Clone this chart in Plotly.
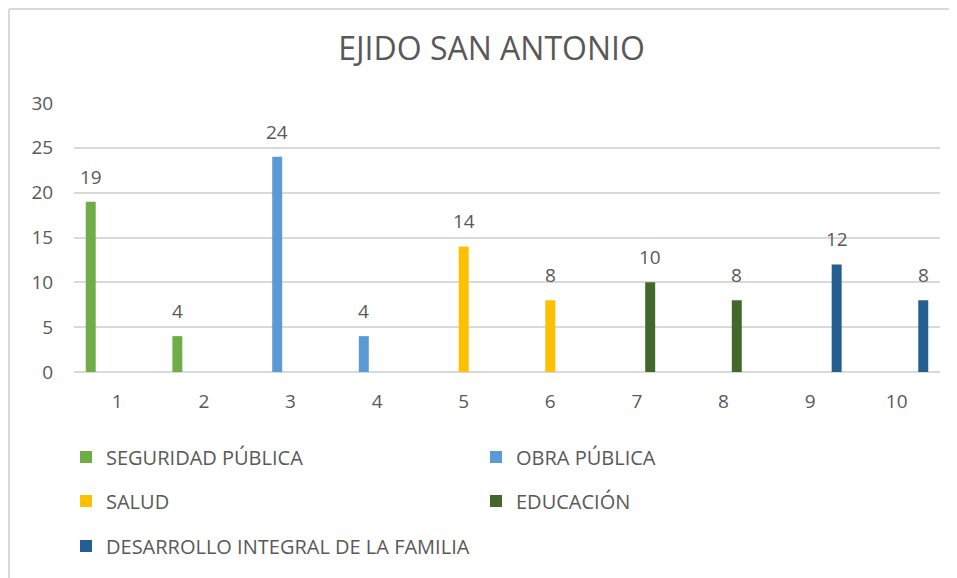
import plotly.graph_objects as go

# ---- data ----
categories = ["1", "2", "3", "4", "5", "6", "7", "8", "9", "10"]
series_names = ["SEGURIDAD PÚBLICA", "OBRA PÚBLICA", "SALUD", "EDUCACIÓN",
                "DESARROLLO INTEGRAL DE LA FAMILIA"]
seguridad = [19, 4, None, None, None, None, None, None, None, None]
obra = [None, None, 24, 4, None, None, None, None, None, None]
salud = [None, None, None, None, 14, 8, None, None, None, None]
educacion = [None, None, None, None, None, None, 10, 8, None, None]
desarrollo = [None, None, None, None, None, None, None, None, 12, 8]
y_ticks = [0, 5, 10, 15, 20, 25, 30]
title_text = "EJIDO SAN ANTONIO"

# ---- style ----
colors = ["#70AD47", "#5B9BD5", "#FFC000", "#43682B", "#255E91"]
txt = "#595959"
grid = "#D9D9D9"
FONT = "Open Sans"
OFF = 8                      # page body margin
FW, FH = 957 - OFF, 578 - OFF
L, R, T, B = 74 - OFF, 17, 103 - OFF, 206
W = FW - L - R
H = FH - T - B
BARGAP = 0.233
GROUPGAP = 0.25

def px_x(px):  # page pixel -> paper
    return (px - OFF - L) / W

def px_y(py):
    return (FH - B - (py - OFF)) / H

all_series = [seguridad, obra, salud, educacion, desarrollo]
fig = go.Figure()
legend_pos = [(66, 457), (476, 457), (66, 501), (476, 501), (66, 546)]
legend_keys = ["legend", "legend2", "legend3", "legend4", "legend5"]

for i, (name, vals) in enumerate(zip(series_names, all_series)):
    fig.add_trace(go.Bar(
        x=categories, y=vals, name=name,
        marker=dict(color=colors[i], line=dict(width=0)),
        legend=legend_keys[i],
        hoverinfo="x+y+name",
    ))

# data labels above bars
n = len(all_series)
slot = W / len(categories) * (1 - BARGAP) / n
annotations = []
for i, vals in enumerate(all_series):
    for ci, v in enumerate(vals):
        if v is None:
            continue
        annotations.append(dict(
            x=ci, y=v, xref="x", yref="y", text=str(v), showarrow=False,
            xshift=(i - (n - 1) / 2) * slot, yshift=25, yanchor="middle",
            font=dict(family=FONT, size=19, color=txt),
        ))

layout_legends = {}
for key, (lx, ly) in zip(legend_keys, legend_pos):
    layout_legends[key] = dict(
        x=px_x(lx), y=px_y(ly), xanchor="left", yanchor="middle",
        xref="paper", yref="paper",
        orientation="h", bgcolor="rgba(0,0,0,0)",
        font=dict(family=FONT, size=20, color=txt),
    )

fig.update_layout(
    width=FW, height=FH,
    margin=dict(l=L, r=R, t=T, b=B, autoexpand=False),
    paper_bgcolor="white", plot_bgcolor="white",
    barmode="group", bargap=BARGAP, bargroupgap=GROUPGAP,
    title=dict(text=title_text, x=(491.5 - OFF) / FW, xref="container",
               xanchor="center", y=1 - (49 - OFF) / FH, yref="container",
               yanchor="middle",
               font=dict(family=FONT, size=32, color=txt)),
    font=dict(family=FONT, size=19, color=txt),
    showlegend=True,
    annotations=annotations,
    xaxis=dict(type="category", showgrid=False, showline=False, zeroline=False,
               ticks="outside", ticklen=12, tickcolor="rgba(0,0,0,0)",
               tickfont=dict(family=FONT, size=19, color=txt)),
    yaxis=dict(range=[0, 30], tickvals=y_ticks, showgrid=True, gridcolor=grid,
               gridwidth=2, zeroline=True, zerolinecolor=grid, zerolinewidth=2,
               showline=False, ticks="outside", ticklen=16,
               tickcolor="rgba(0,0,0,0)",
               tickfont=dict(family=FONT, size=19, color=txt)),
    shapes=[
        dict(type="line", xref="paper", yref="paper",
             x0=px_x(9), x1=px_x(9), y0=px_y(9), y1=px_y(600),
             line=dict(color=grid, width=2)),
        dict(type="line", xref="paper", yref="paper",
             x0=px_x(9), x1=px_x(980), y0=px_y(9), y1=px_y(9),
             line=dict(color=grid, width=2)),
    ],
    **layout_legends,
)

fig.write_html("out.html")
